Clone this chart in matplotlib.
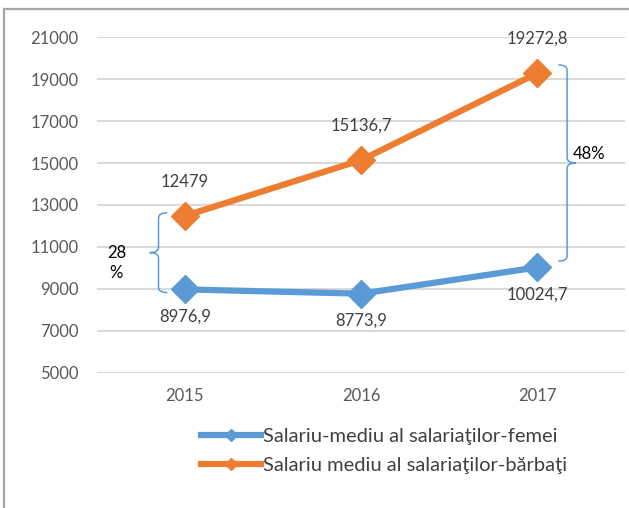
import matplotlib
matplotlib.use("Agg")
import matplotlib.pyplot as plt
from matplotlib.lines import Line2D
from matplotlib.path import Path
from matplotlib.patches import PathPatch

plt.rcParams['font.family'] = ['Lato', 'DejaVu Sans']

ani = ["2015", "2016", "2017"]
femei = [8976.9, 8773.9, 10024.7]
barbati = [12479, 15136.7, 19272.8]
et_femei = ["8976,9", "8773,9", "10024,7"]
et_barbati = ["12479", "15136,7", "19272,8"]
yticks = [5000, 7000, 9000, 11000, 13000, 15000, 17000, 19000, 21000]

albastru = "#5B9BD5"
portocaliu = "#ED7D31"

fig = plt.figure(figsize=(6.29, 5.08), dpi=100)
ax = fig.add_axes([0.154, 0.266, 0.84, 0.661])

x = list(range(len(ani)))
ax.plot(x, femei, color=albastru, lw=4.5, marker="D", ms=14, zorder=3)
ax.plot(x, barbati, color=portocaliu, lw=4.5, marker="D", ms=14, zorder=3)

# etichete de date
for i in x:
    ax.annotate(et_barbati[i], (i, barbati[i]), xytext=(0, 19), textcoords="offset points",
                ha="center", va="bottom", fontsize=12, color="#404040")
    ax.annotate(et_femei[i], (i, femei[i]), xytext=(0, -14), textcoords="offset points",
                ha="center", va="top", fontsize=12, color="#404040")

ax.set_xlim(-0.5, 2.5)
ax.set_ylim(5000, 21000)
ax.set_yticks(yticks)
ax.set_xticks(x)
ax.set_xticklabels(ani)
ax.tick_params(length=0, labelsize=12, labelcolor="#595959", pad=11)
ax.tick_params(axis="y", pad=13)
ax.grid(axis="y", color="#D9D9D9", lw=1.5)
ax.set_axisbelow(True)
for s in ax.spines.values():
    s.set_visible(False)


def acolada(xb, sus, jos, dx, dy):
    # acolada verticala, dx > 0 deschisa spre dreapta
    mij = (sus + jos) / 2
    v = [(xb + dx, sus), (xb, sus), (xb, sus - dy),
         (xb, mij + dy),
         (xb, mij), (xb - dx, mij),
         (xb, mij), (xb, mij - dy),
         (xb, jos + dy),
         (xb, jos), (xb + dx, jos)]
    c = [Path.MOVETO, Path.CURVE3, Path.CURVE3, Path.LINETO,
         Path.CURVE3, Path.CURVE3, Path.CURVE3, Path.CURVE3,
         Path.LINETO, Path.CURVE3, Path.CURVE3]
    ax.add_patch(PathPatch(Path(v, c), fill=False, ec=albastru, lw=1.1, zorder=2))
    return mij


m1 = acolada(-0.15, barbati[0] + 150, femei[0] - 150, 0.05, 250)
ax.text(-0.44, m1 - 420, "28", fontsize=12, color="black", va="bottom")
ax.text(-0.43, m1 - 570, "%", fontsize=12, color="black", va="top")

m2 = acolada(2.17, barbati[2] + 400, femei[2] + 300, -0.05, 250)
ax.text(2.2, m2 + 50, "48%", fontsize=12, color="black", va="bottom")

handles = [Line2D([], [], color=albastru, lw=4.5, marker="D", ms=6),
           Line2D([], [], color=portocaliu, lw=4.5, marker="D", ms=6)]
fig.legend(handles, ["Salariu-mediu al salariaţilor-femei", "Salariu mediu al salariaţilor-bărbaţi"],
           loc="upper left", bbox_to_anchor=(0.303, 0.178), bbox_transform=fig.transFigure,
           frameon=False, fontsize=14.5, handlelength=3.0, handletextpad=0.1, labelspacing=0.6,
           labelcolor="#404040", borderpad=0)

# chenar
fig.add_artist(Line2D([0.007, 0.007], [0.0, 0.982], color="#A6A6A6", lw=1.6))
fig.add_artist(Line2D([0.007, 1.0], [0.982, 0.982], color="#A6A6A6", lw=1.6))

fig.savefig("out.png", dpi=100)
